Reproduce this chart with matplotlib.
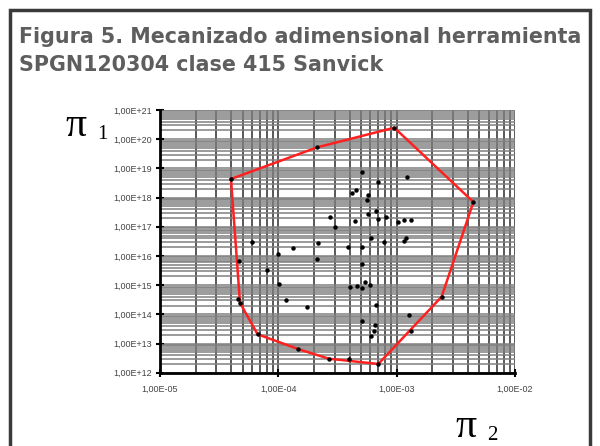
import matplotlib
matplotlib.use("Agg")
import matplotlib.pyplot as plt
from matplotlib.patches import Rectangle
from matplotlib.ticker import FixedLocator, FuncFormatter, LogLocator, NullFormatter

# outer envelope of the tests (closed polygon, drawn in red)
hull_x = [3.98e-5, 2.13e-4, 9.55e-4, 4.45e-3, 2.40e-3, 7.0e-4, 2.67e-4, 1.48e-4, 6.67e-5, 4.74e-5]
hull_y = [4.35e18, 5.30e19, 2.49e20, 7.08e17, 4.03e14, 1.99e12, 3.02e12, 6.4e12, 2.08e13, 2.5e14]

# remaining test points (pi_2, pi_1)
pts_x = [2.73e-4, 3.03e-4, 6.03e-5, 1.34e-4, 2.18e-4, 1.0e-4, 2.13e-4, 4.62e-5, 8.07e-5,
         1.01e-4, 1.16e-4, 1.74e-4, 4.59e-5, 3.90e-4, 4.03e-4, 4.59e-4, 5.12e-4, 5.40e-4,
         5.95e-4, 6.65e-4, 5.07e-4, 6.56e-4, 6.43e-4, 6.07e-4, 1.28e-3, 1.32e-3, 3.98e-4,
         4.45e-4, 5.75e-4, 6.65e-4, 6.92e-4, 8.13e-4, 1.02e-3, 1.15e-3, 1.32e-3, 6.07e-4,
         7.86e-4, 1.20e-3, 1.16e-3, 5.12e-4, 5.07e-4, 5.07e-4, 6.92e-4, 1.22e-3, 4.17e-4,
         4.51e-4, 5.69e-4, 5.58e-4]
pts_y = [2.22e17, 1.01e17, 3.08e16, 1.95e16, 2.72e16, 1.14e16, 7.87e15, 6.89e15, 3.44e15,
         1.12e15, 3.10e14, 1.74e14, 3.36e14, 2.11e16, 8.45e14, 9.36e14, 8.18e14, 1.33e15,
         1.05e15, 2.09e14, 5.91e13, 4.31e13, 2.69e13, 1.85e13, 9.5e13, 2.75e13, 2.95e12,
         1.64e17, 2.75e17, 3.48e17, 1.90e17, 2.17e17, 1.46e17, 1.75e17, 1.75e17, 4.30e16,
         3.08e16, 4.13e16, 3.34e16, 2.11e16, 5.43e15, 7.38e18, 3.43e18, 5.21e18, 1.41e18,
         1.82e18, 1.26e18, 8.28e17]

x_ticks = [1e-5, 1e-4, 1e-3, 1e-2]
y_ticks = [1e12, 1e13, 1e14, 1e15, 1e16, 1e17, 1e18, 1e19, 1e20, 1e21]

title_lines = ["Figura 5. Mecanizado adimensional herramienta",
               "SPGN120304 clase 415 Sanvick"]

fig = plt.figure(figsize=(6.0, 4.46), dpi=100)
fig.patch.set_facecolor("white")

# dark frame round the figure, open past the lower edge
fig.patches.append(Rectangle((10 / 600, -10 / 446), 580 / 600, 446 / 446,
                             transform=fig.transFigure, fill=False,
                             edgecolor="#3a3a3a", linewidth=2.5))

for i, line in enumerate(title_lines):
    fig.text(19 / 600, 1 - (43 + 28 * i) / 446, line, fontsize=14.9,
             fontweight="bold", family="DejaVu Sans",
             color="#5e5e5e", va="baseline", ha="left")

ax = fig.add_axes([160 / 600, 1 - 372.7 / 446, 355 / 600, 262.6 / 446])
ax.set_xscale("log")
ax.set_yscale("log")
ax.set_xlim(x_ticks[0], x_ticks[-1])
ax.set_ylim(y_ticks[0], y_ticks[-1])

ax.xaxis.set_major_locator(FixedLocator(x_ticks))
ax.yaxis.set_major_locator(FixedLocator(y_ticks))
ax.xaxis.set_minor_locator(LogLocator(base=10, subs=range(2, 10), numticks=30))
ax.yaxis.set_minor_locator(LogLocator(base=10, subs=range(2, 10), numticks=30))
ax.xaxis.set_minor_formatter(NullFormatter())
ax.yaxis.set_minor_formatter(NullFormatter())
sci = FuncFormatter(lambda v, _: f"{v:.2E}".replace(".", ","))
ax.xaxis.set_major_formatter(sci)
ax.yaxis.set_major_formatter(sci)

ax.grid(True, which="both", axis="x", color="#3c3c3c", linewidth=1.2)
ax.grid(True, which="both", axis="y", color="#808080", linewidth=1.1)
ax.set_axisbelow(True)

for side in ("top", "right"):
    ax.spines[side].set_visible(False)
for side in ("left", "bottom"):
    ax.spines[side].set_linewidth(2)
    ax.spines[side].set_color("black")

ax.tick_params(which="major", direction="inout", length=6, width=1.5,
               labelsize=6.5, labelcolor="#444444", pad=3)
ax.tick_params(axis="x", which="major", pad=6)
ax.tick_params(which="minor", length=0)
for lbl in ax.get_xticklabels() + ax.get_yticklabels():
    lbl.set_family("Liberation Sans")

ax.plot(hull_x + hull_x[:1], hull_y + hull_y[:1], color="#ff2020", linewidth=1.8, zorder=3)
ax.plot(hull_x, hull_y, "o", color="black", markersize=2.2, zorder=4)
ax.plot(pts_x, pts_y, "o", color="black", markersize=2.2, zorder=4)

# axis symbols: upright serif pi with its index set low and to the right
for (px, py), sub in [((65, 136), "1"), ((455, 437), "2")]:
    fig.text(px / 600, 1 - py / 446, "π", fontsize=30, family="Liberation Serif",
             color="black", va="baseline")
    fig.text((px + 32) / 600, 1 - (py + 3) / 446, sub, fontsize=15,
             family="Liberation Serif", color="black", va="baseline")

fig.savefig("out.png", dpi=100)
